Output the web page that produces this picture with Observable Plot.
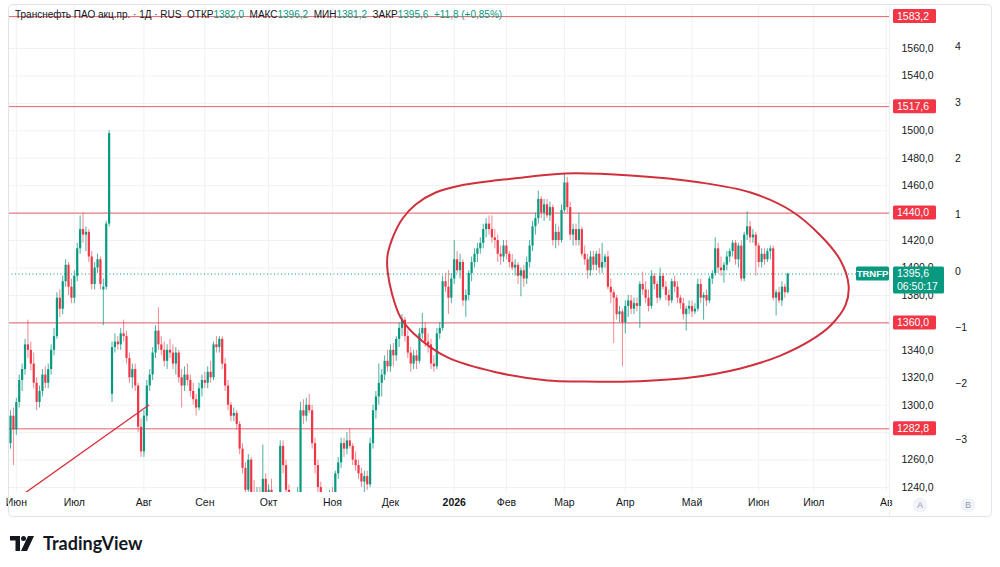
<!DOCTYPE html>
<html><head><meta charset="utf-8">
<script src="https://cdn.jsdelivr.net/npm/d3@7"></script>
<script src="https://cdn.jsdelivr.net/npm/@observablehq/plot@0.6"></script>
<style>
body{margin:0;background:#fff;font-family:"Liberation Sans",Arial,sans-serif;}
#wrap{position:relative;width:1000px;height:520px;}
#hdr{position:absolute;left:15px;top:9px;font-size:10px;color:#131722;white-space:pre;line-height:12px;}
#hdr .v{color:#089981}
#logo{position:absolute;left:10px;top:532px;display:flex;align-items:center;gap:7px;font-family:Lato,"Open Sans",sans-serif;font-weight:700;font-size:18px;color:#131722;}
</style></head>
<body>
<div id="wrap"><div id="hdr"></div></div>
<div id="logo"><svg width="26" height="15" viewBox="0 0 26 15"><path d="M0 0H10V15H5.5V4.5H0Z" fill="#131722"/><circle cx="13.5" cy="2.5" r="2.5" fill="#131722"/><path d="M18 0H24L17 15H11Z" fill="#131722"/></svg><span>TradingView</span></div>
<script>
const open = [1272,1292,1282,1302,1318,1326,1344,1340,1330,1316,1302,1310,1322,1316,1326,1340,1350,1378,1370,1390,1402,1386,1378,1394,1414,1428,1424,1426,1408,1388,1400,1406,1384,1386,1432,
1308,1342,1346,1344,1352,1350,1334,1320,1326,1314,1284,1266,1292,1314,1322,1338,1354,1344,1340,1332,1340,1338,1330,1338,1320,1314,1322,1318,1310,1304,1298,1312,1318,1316,1324,
1320,1344,1342,1348,1330,1314,1300,1292,1294,1286,1268,1254,1238,1260,1234,1226,1232,1222,1246,1236,1238,1230,1216,1226,1270,1256,1238,1226,1220,1228,
1236,1296,1292,1300,1296,1272,1256,1240,1228,1218,1222,1234,1230,1250,1258,1272,1268,1274,1270,1260,1256,1250,1244,1248,1242,1272,1296,1306,1316,1322,
1332,1328,1340,1336,1348,1356,1362,1350,1338,1330,1336,1332,1352,1356,1346,1344,1330,1328,1352,1356,1390,1386,1378,1392,1406,1398,1404,1376,1380,1396,
1404,1410,1414,1418,1428,1432,1428,1422,1420,1410,1408,1416,1410,1404,1400,1402,1394,1398,1392,1404,1416,1430,1436,1450,1440,1446,1438,1444,1420,1426,
1420,1442,1462,1444,1424,1428,1420,1428,1410,1406,1398,1408,1402,1410,1400,1404,1408,1386,1382,1378,1366,1368,1360,1372,1376,1370,1374,1372,1388,1384,
1378,1372,1394,1388,1378,1394,1386,1380,1376,1390,1386,1378,1374,1366,1370,1372,1368,1370,1388,1378,1380,1376,1392,1396,1414,1400,1398,1402,1408,1412,
1418,1406,1416,1392,1424,1430,1422,1424,1416,1404,1410,1406,1412,1414,1378,1382,1376,1386,1382];
const high = [1296,1298,1305,1322,1330,1348,1362,1346,1338,1320,1314,1326,1328,1330,1344,1356,1382,1384,1394,1406,1404,1392,1398,1418,1438,1440,1430,1428,1412,1404,1410,1408,1392,1434,1500,
1346,1352,1350,1356,1362,1354,1338,1330,1330,1316,1290,1296,1318,1326,1342,1358,1371,1350,1346,1344,1348,1344,1342,1340,1326,1328,1330,1322,1316,1308,1316,1322,1324,1328,1332,
1346,1350,1350,1350,1334,1318,1302,1298,1296,1288,1272,1258,1264,1262,1245,1240,1240,1271,1250,1242,1246,1236,1230,1274,1274,1260,1242,1234,1232,1240,
1302,1304,1305,1308,1300,1276,1260,1244,1232,1228,1238,1240,1252,1262,1276,1276,1280,1283,1272,1266,1260,1254,1252,1252,1276,1300,1310,1330,1326,1336,
1340,1344,1345,1350,1360,1366,1364,1354,1342,1340,1340,1356,1367,1360,1352,1348,1336,1356,1360,1394,1396,1398,1396,1420,1412,1410,1406,1384,1398,1408,
1414,1418,1422,1432,1436,1438,1438,1428,1424,1416,1420,1420,1412,1410,1406,1404,1400,1402,1408,1420,1434,1440,1456,1452,1450,1450,1448,1446,1432,1430,
1446,1469,1466,1448,1432,1432,1440,1430,1416,1410,1412,1412,1412,1414,1418,1410,1412,1392,1384,1380,1372,1370,1376,1380,1380,1378,1378,1390,1397,1390,
1384,1398,1396,1390,1400,1396,1390,1384,1392,1394,1390,1380,1378,1372,1376,1376,1374,1392,1392,1382,1384,1394,1398,1422,1418,1408,1404,1412,1414,1420,
1420,1418,1420,1426,1441,1434,1428,1426,1418,1414,1414,1414,1416,1416,1384,1386,1390,1388,1396.2];
const low = [1268,1256,1278,1298,1310,1322,1334,1325,1312,1296,1298,1306,1312,1312,1322,1336,1348,1364,1366,1386,1380,1374,1374,1390,1410,1418,1412,1404,1384,1384,1396,1384,1358,1384,1430,
1302,1338,1340,1340,1346,1330,1316,1312,1310,1280,1262,1262,1288,1310,1318,1334,1340,1336,1328,1326,1334,1326,1322,1316,1298,1310,1314,1306,1300,1292,1296,1306,1312,1312,1316,
1318,1338,1338,1326,1310,1296,1288,1288,1282,1264,1250,1236,1225,1228,1220,1215,1218,1218,1230,1224,1226,1210,1205,1222,1250,1232,1220,1212,1214,1225,
1234,1286,1288,1294,1268,1250,1236,1222,1210,1205,1218,1226,1228,1246,1254,1262,1264,1268,1256,1252,1246,1240,1236,1238,1240,1268,1290,1300,1306,1318,
1324,1324,1328,1332,1342,1350,1346,1334,1324,1326,1326,1330,1348,1342,1338,1326,1324,1326,1348,1354,1382,1366,1374,1388,1396,1392,1372,1364,1376,1390,
1400,1404,1410,1414,1422,1424,1418,1414,1404,1402,1404,1406,1400,1398,1394,1388,1379,1386,1388,1400,1412,1424,1432,1436,1434,1436,1434,1416,1414,1416,
1418,1440,1440,1420,1416,1416,1416,1408,1402,1392,1394,1398,1398,1396,1396,1400,1384,1374,1345,1362,1360,1328,1352,1364,1366,1366,1368,1356,1380,1374,
1368,1370,1384,1374,1376,1384,1376,1372,1374,1382,1374,1370,1362,1354,1366,1364,1366,1368,1374,1362,1372,1374,1388,1394,1396,1394,1389,1398,1404,1408,
1402,1400,1390,1390,1420,1418,1418,1394,1400,1400,1402,1404,1406,1376,1365,1374,1372,1378,1381.2];
const close = [1292,1282,1302,1318,1326,1344,1340,1330,1316,1302,1310,1322,1316,1326,1340,1350,1378,1370,1390,1402,1386,1378,1394,1414,1428,1424,1426,1408,1388,1400,1406,1388,1386,1432,1498,
1342,1346,1344,1352,1350,1334,1320,1326,1314,1284,1266,1292,1314,1322,1338,1354,1344,1340,1332,1340,1338,1330,1338,1320,1314,1322,1318,1310,1304,1298,1312,1318,1316,1324,1320,
1344,1342,1348,1330,1314,1300,1292,1294,1286,1268,1254,1238,1260,1234,1226,1232,1222,1246,1236,1238,1230,1216,1226,1270,1256,1238,1226,1220,1228,1236,
1296,1292,1300,1296,1272,1256,1240,1228,1218,1222,1234,1230,1250,1258,1272,1268,1274,1270,1260,1256,1250,1244,1248,1242,1272,1296,1306,1316,1322,1332,
1328,1340,1336,1348,1356,1362,1350,1338,1330,1336,1332,1352,1356,1346,1344,1330,1328,1352,1356,1390,1386,1378,1392,1406,1398,1404,1376,1380,1396,1404,
1410,1414,1418,1428,1432,1428,1422,1420,1410,1408,1416,1410,1404,1400,1402,1394,1398,1392,1404,1416,1430,1436,1450,1440,1446,1438,1444,1420,1426,1420,
1442,1462,1444,1424,1428,1420,1428,1410,1406,1398,1408,1402,1410,1400,1404,1408,1386,1382,1378,1366,1368,1360,1372,1376,1370,1374,1372,1388,1384,1378,
1372,1394,1388,1378,1394,1386,1380,1376,1390,1386,1378,1374,1366,1370,1372,1368,1370,1388,1378,1380,1376,1392,1396,1414,1400,1398,1402,1408,1412,1418,
1406,1416,1392,1424,1430,1422,1424,1416,1404,1410,1406,1412,1414,1378,1382,1376,1386,1382,1395.6];

const monthTicks  = [2, 22, 46, 67, 89, 111, 131, 153, 171, 191, 212, 235, 258, 277, 302];
const monthLabels = ["Июн","Июл","Авг","Сен","Окт","Ноя","Дек","2026","Фев","Мар","Апр","Май","Июн","Июл","Ав"];
const priceTicks = d3.range(1240, 1561, 20);
const levels = [1583.2, 1517.6, 1440.0, 1360.0, 1282.8];
const lastPrice = 1395.6;
const countdown = "06:50:17";
const ticker = "TRNFP";
const secLabels = ["4","3","2","1","0","\u22121","\u22122","\u22123"];
const secValues = [1561.1, 1520.2, 1479.3, 1438.4, 1397.5, 1356.6, 1315.7, 1274.8];
const trendIdx = [5.2, 47.6];
const trendVal = [1236.4, 1300.0];
const ellIdx = [130.0,132.1,135.2,139.7,146.6,155.2,173.4,191.4,213.8,237.9,255.2,269.0,279.3,286.2,289.0,287.9,282.8,275.9,265.5,251.7,234.5,213.8,196.6,185.2,167.9,150.7,139.0,134.5,131.7,130.0];
const ellVal = [1409.1,1423.7,1436.1,1446.3,1455.0,1460.1,1465.2,1468.9,1467.4,1462.3,1455.0,1441.9,1423.7,1405.5,1387.3,1372.7,1358.1,1347.2,1336.2,1326.8,1320.2,1317.3,1317.3,1318.0,1323.8,1334.8,1352.3,1363.9,1379.9,1398.2];

const UP = "#089981", DOWN = "#f23645";
const fmt = v => v.toFixed(1).replace(".", ",");
// tick labels hidden behind the level badges in the reference are not drawn
const shownTicks = priceTicks.filter(t => levels.every(l => Math.abs(l - t) > 6));

const hdr = document.getElementById("hdr");
hdr.innerHTML = 'Транснефть ПАО акц.пр. · 1Д · RUS  ОТКР<span class="v">1382,0</span>  МАКС<span class="v">1396,2</span>  МИН<span class="v">1381,2</span>  ЗАКР<span class="v">1395,6</span>  <span class="v">+11,8 (+0,85%)</span>';

const candles = open.map((o, i) => ({i, o, h: high[i], l: low[i], c: close[i]}));
const ups = candles.filter(d => d.c >= d.o);
const downs = candles.filter(d => d.c < d.o);
const trend = trendIdx.map((x, k) => ({x, y: trendVal[k]}));
const ell = ellIdx.map((x, k) => ({x, y: ellVal[k]}));
const monthData = monthTicks.map((t, k) => ({t, label: monthLabels[k]}));

const chart = Plot.plot({
  width: 1000, height: 520,
  marginLeft: 8, marginRight: 111, marginTop: 5, marginBottom: 28,
  x: {type: "linear", domain: [-0.7, 303.1], axis: null},
  y: {domain: [1236.4, 1591.3], axis: null},
  style: {fontFamily: '"Liberation Sans", Arial, sans-serif', fontSize: "10.5px", color: "#131722", background: "transparent", overflow: "visible"},
  marks: [
    Plot.gridY(priceTicks, {stroke: "#eff1f5", strokeOpacity: 1}),
    Plot.gridX(monthTicks, {stroke: "#eff1f5", strokeOpacity: 1}),
    Plot.axisY(shownTicks, {anchor: "right", tickSize: 0, tickPadding: 12, tickFormat: fmt, fill: "#131722"}),
    Plot.text(monthData.filter(d => d.label !== "2026"), {x: "t", text: "label", frameAnchor: "bottom", dy: 13, fill: "#131722"}),
    Plot.text(monthData.filter(d => d.label === "2026"), {x: "t", text: "label", frameAnchor: "bottom", dy: 13, fill: "#131722", fontWeight: "bold"}),
    Plot.ruleY(levels, {stroke: "#e0505c", strokeWidth: 1, strokeOpacity: 0.9}),
    Plot.ruleY([lastPrice], {stroke: UP, strokeDasharray: "1,2.5", strokeWidth: 1}),
    Plot.ruleX(ups, {x: "i", y1: "l", y2: "h", stroke: UP, strokeOpacity: 0.75, strokeWidth: 1, clip: true}),
    Plot.ruleX(downs, {x: "i", y1: "l", y2: "h", stroke: DOWN, strokeOpacity: 0.6, strokeWidth: 1, clip: true}),
    Plot.ruleX(ups, {x: "i", y1: "o", y2: "c", stroke: UP, strokeWidth: 2.2, clip: true}),
    Plot.ruleX(downs, {x: "i", y1: "o", y2: "c", stroke: DOWN, strokeWidth: 2.2, clip: true}),
    Plot.line(trend, {x: "x", y: "y", stroke: "#d9323f", strokeWidth: 1.4, clip: true}),
    Plot.line(ell, {x: "x", y: "y", curve: "catmull-rom-closed", stroke: "#d0303c", strokeWidth: 2})
  ]
});

document.getElementById("wrap").prepend(chart);

const svg = d3.select(chart);
const ys = chart.scale("y");
const W = 1000, R = W - 111, T = 5;
const ov = svg.append("g").attr("font-family", '"Liberation Sans", Arial, sans-serif').attr("font-size", 10.5).attr("text-anchor", "start");

ov.append("rect").attr("x", 8.5).attr("y", 4.5).attr("width", 983).attr("height", 512).attr("rx", 4)
  .attr("fill", "none").attr("stroke", "#e0e3eb");
ov.append("line").attr("x1", R + 0.5).attr("x2", R + 0.5).attr("y1", T).attr("y2", 516).attr("stroke", "#eceef2");

levels.forEach(v => {
  const py = ys.apply(v);
  ov.append("rect").attr("x", R + 4).attr("y", py - 7).attr("width", 43).attr("height", 14).attr("rx", 1.5).attr("fill", DOWN);
  ov.append("text").attr("x", R + 8).attr("y", py).attr("dy", "0.35em").attr("text-anchor", "start").attr("fill", "#fff").text(fmt(v));
});

{
  const py = ys.apply(lastPrice);
  ov.append("rect").attr("x", R - 33).attr("y", py - 7).attr("width", 33).attr("height", 14).attr("rx", 1.5).attr("fill", UP);
  ov.append("text").attr("x", R - 16.5).attr("y", py).attr("dy", "0.35em").attr("text-anchor", "middle").attr("fill", "#fff")
    .attr("font-weight", "bold").attr("font-size", 9.5).text(ticker);
  ov.append("rect").attr("x", R + 4).attr("y", py - 7).attr("width", 51).attr("height", 27).attr("rx", 1.5).attr("fill", UP);
  ov.append("text").attr("x", R + 8).attr("y", py).attr("dy", "0.35em").attr("text-anchor", "start").attr("fill", "#fff").text(fmt(lastPrice));
  ov.append("text").attr("x", R + 8).attr("y", py + 13).attr("dy", "0.35em").attr("text-anchor", "start").attr("fill", "#fff").text(countdown);
}

secValues.forEach((v, k) => {
  ov.append("text").attr("x", R + 66).attr("y", ys.apply(v)).attr("dy", "0.35em").attr("text-anchor", "start").attr("fill", "#131722").text(secLabels[k]);
});

[["A", R + 31], ["B", R + 79]].forEach(([t, cx]) => {
  ov.append("circle").attr("cx", cx).attr("cy", 505).attr("r", 7.5).attr("fill", "#f0f3fa");
  ov.append("text").attr("x", cx).attr("y", 505).attr("dy", "0.35em").attr("text-anchor", "middle").attr("fill", "#9598a1").attr("font-size", 8.5).text(t);
});
</script>
</body></html>
